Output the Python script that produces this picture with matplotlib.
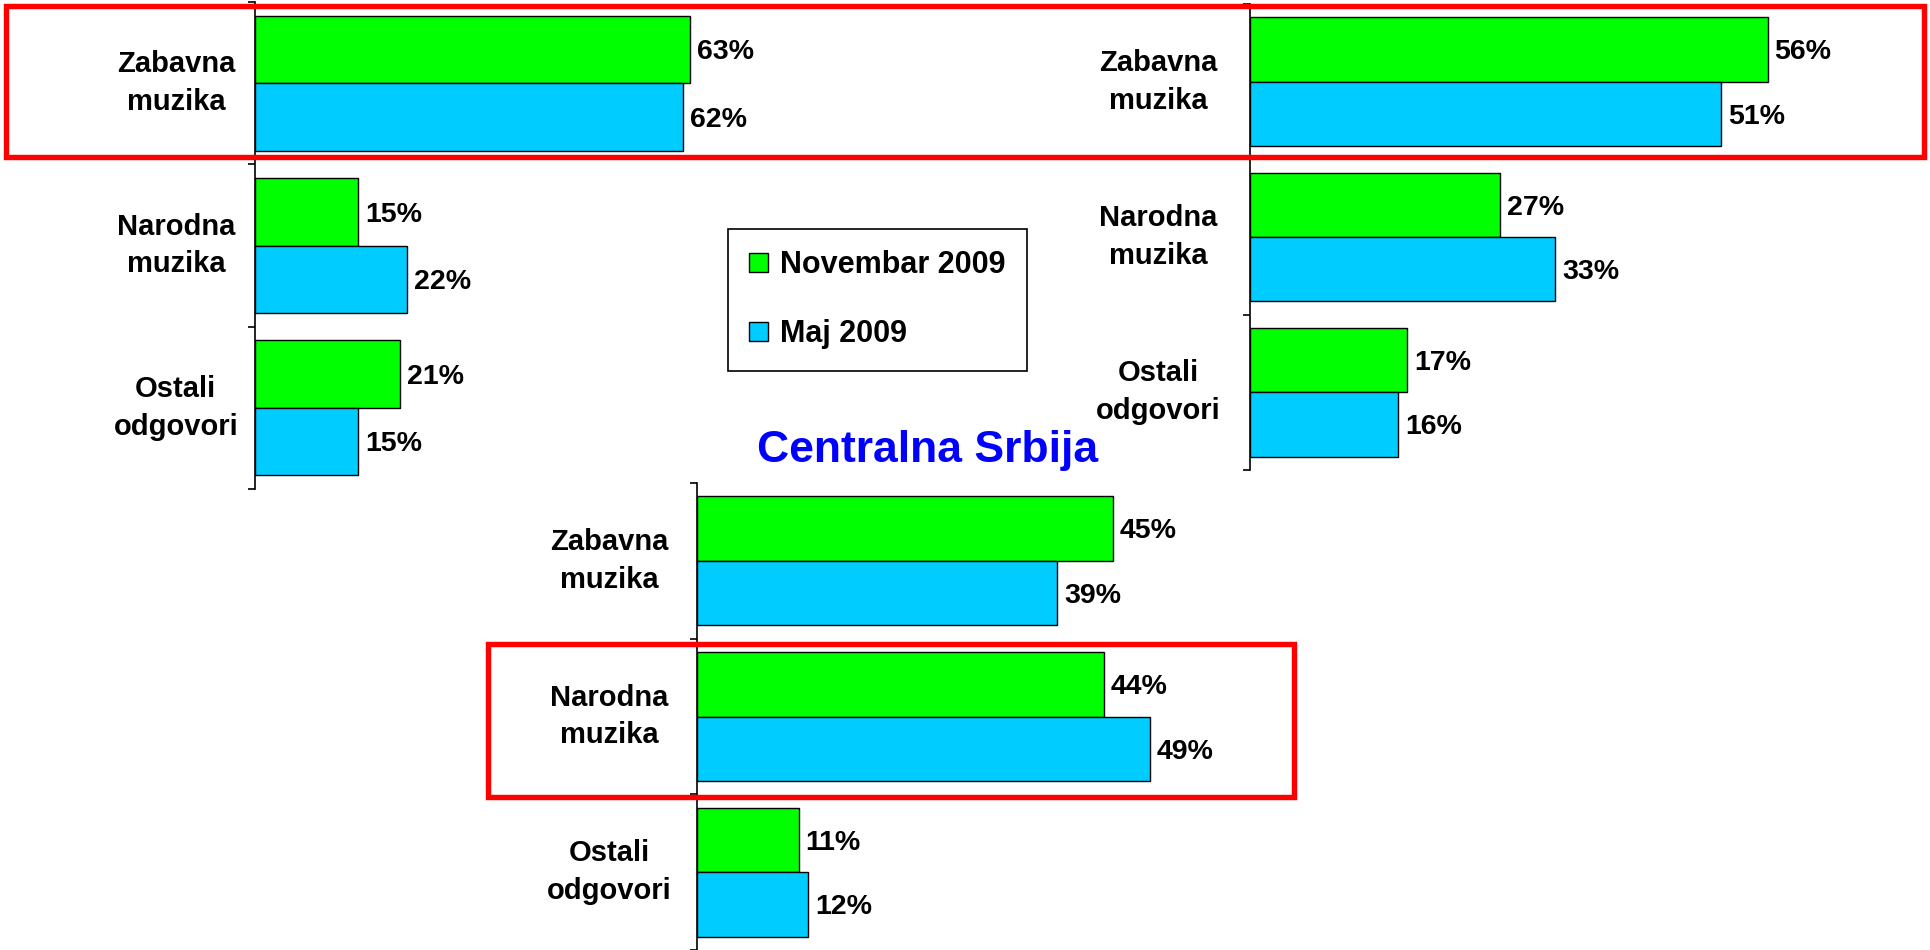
import matplotlib.pyplot as plt
from matplotlib.patches import Patch, Rectangle

plt.rcParams['font.family'] = ['Liberation Sans', 'DejaVu Sans']
plt.rcParams['font.weight'] = 'bold'

# data
categories = ['Zabavna\nmuzika', 'Narodna\nmuzika', 'Ostali\nodgovori']
series_names = ['Novembar 2009', 'Maj 2009']
colors = ['#00ff00', '#00ccff']

left_nov = [63, 15, 21]
left_maj = [62, 22, 15]
right_nov = [56, 27, 17]
right_maj = [51, 33, 16]
central_nov = [45, 44, 11]
central_maj = [39, 49, 12]
central_title = 'Centralna Srbija'

W, H = 1931, 950
fig = plt.figure(figsize=(W / 100, H / 100), dpi=100)


def px_axes(x0, top, bottom, width):
    # axes placed in pixel units measured from the top-left corner
    return fig.add_axes([x0 / W, 1 - bottom / H, width / W, (bottom - top) / H])


def draw_panel(ax, nov, maj, xmax, label_offset):
    ys = list(range(len(categories)))
    h = 0.415
    ax.barh([y - h / 2 for y in ys], nov, height=h, color=colors[0],
            edgecolor='black', linewidth=1)
    ax.barh([y + h / 2 for y in ys], maj, height=h, color=colors[1],
            edgecolor='black', linewidth=1)
    for vals, off in ((nov, -h / 2), (maj, h / 2)):
        for y, v in zip(ys, vals):
            ax.annotate(f'{v}%', (v, y + off), xytext=(5, -2), textcoords='offset points',
                        ha='left', va='center', fontsize=20.5)
    for y, c in zip(ys, categories):
        ax.annotate(c, (0, y), xycoords=('axes fraction', 'data'),
                    xytext=(-label_offset, 0), textcoords='offset points',
                    ha='center', va='center', fontsize=21, linespacing=1.45)

    ax.set_xlim(0, xmax)
    ax.set_ylim(len(categories) - 0.5, -0.5)
    for s in ['top', 'right', 'bottom']:
        ax.spines[s].set_visible(False)
    ax.spines['left'].set_linewidth(1.2)
    ax.set_xticks([])
    ax.set_yticks(ys)
    ax.set_yticklabels([])
    ax.tick_params(axis='y', which='major', length=0)
    ax.set_yticks([y - 0.5 for y in range(len(categories) + 1)], minor=True)
    ax.tick_params(axis='y', which='minor', length=5, width=1.2)
    ax.patch.set_alpha(0)


ax_tl = px_axes(255, 2, 489, 690)
draw_panel(ax_tl, left_nov, left_maj, 100, 57)

ax_tr = px_axes(1250, 4, 470, 647)
draw_panel(ax_tr, right_nov, right_maj, 70, 66)

ax_c = px_axes(697, 483, 950, 924)
draw_panel(ax_c, central_nov, central_maj, 100, 63)

fig.text(928 / W, 1 - 462 / H, central_title, ha='center', va='baseline', fontsize=32,
         color='#0000ff', fontweight='bold', zorder=5,
         bbox=dict(facecolor='white', edgecolor='none', pad=2))

handles = [Patch(facecolor=c, edgecolor='black', linewidth=1) for c in colors]
leg = fig.legend(handles, series_names, loc='upper left',
                 bbox_to_anchor=(728 / W, 1 - 229 / H), bbox_transform=fig.transFigure,
                 frameon=True, fancybox=False, edgecolor='black', framealpha=1,
                 prop={'size': 22, 'weight': 'bold'}, handlelength=0.6, handleheight=0.6,
                 handletextpad=0.4, labelspacing=1.27, borderpad=0.7, borderaxespad=0)
leg.get_frame().set_linewidth(1.2)

# red highlight boxes
fig.add_artist(Rectangle((6 / W, 1 - 157 / H), (1924 - 6) / W, (157 - 6) / H,
                         transform=fig.transFigure, fill=False, edgecolor='red', linewidth=3.9))
fig.add_artist(Rectangle((488 / W, 1 - 797 / H), (1294 - 488) / W, (797 - 644) / H,
                         transform=fig.transFigure, fill=False, edgecolor='red', linewidth=3.9))

fig.savefig('out.png', dpi=100, facecolor='white')
